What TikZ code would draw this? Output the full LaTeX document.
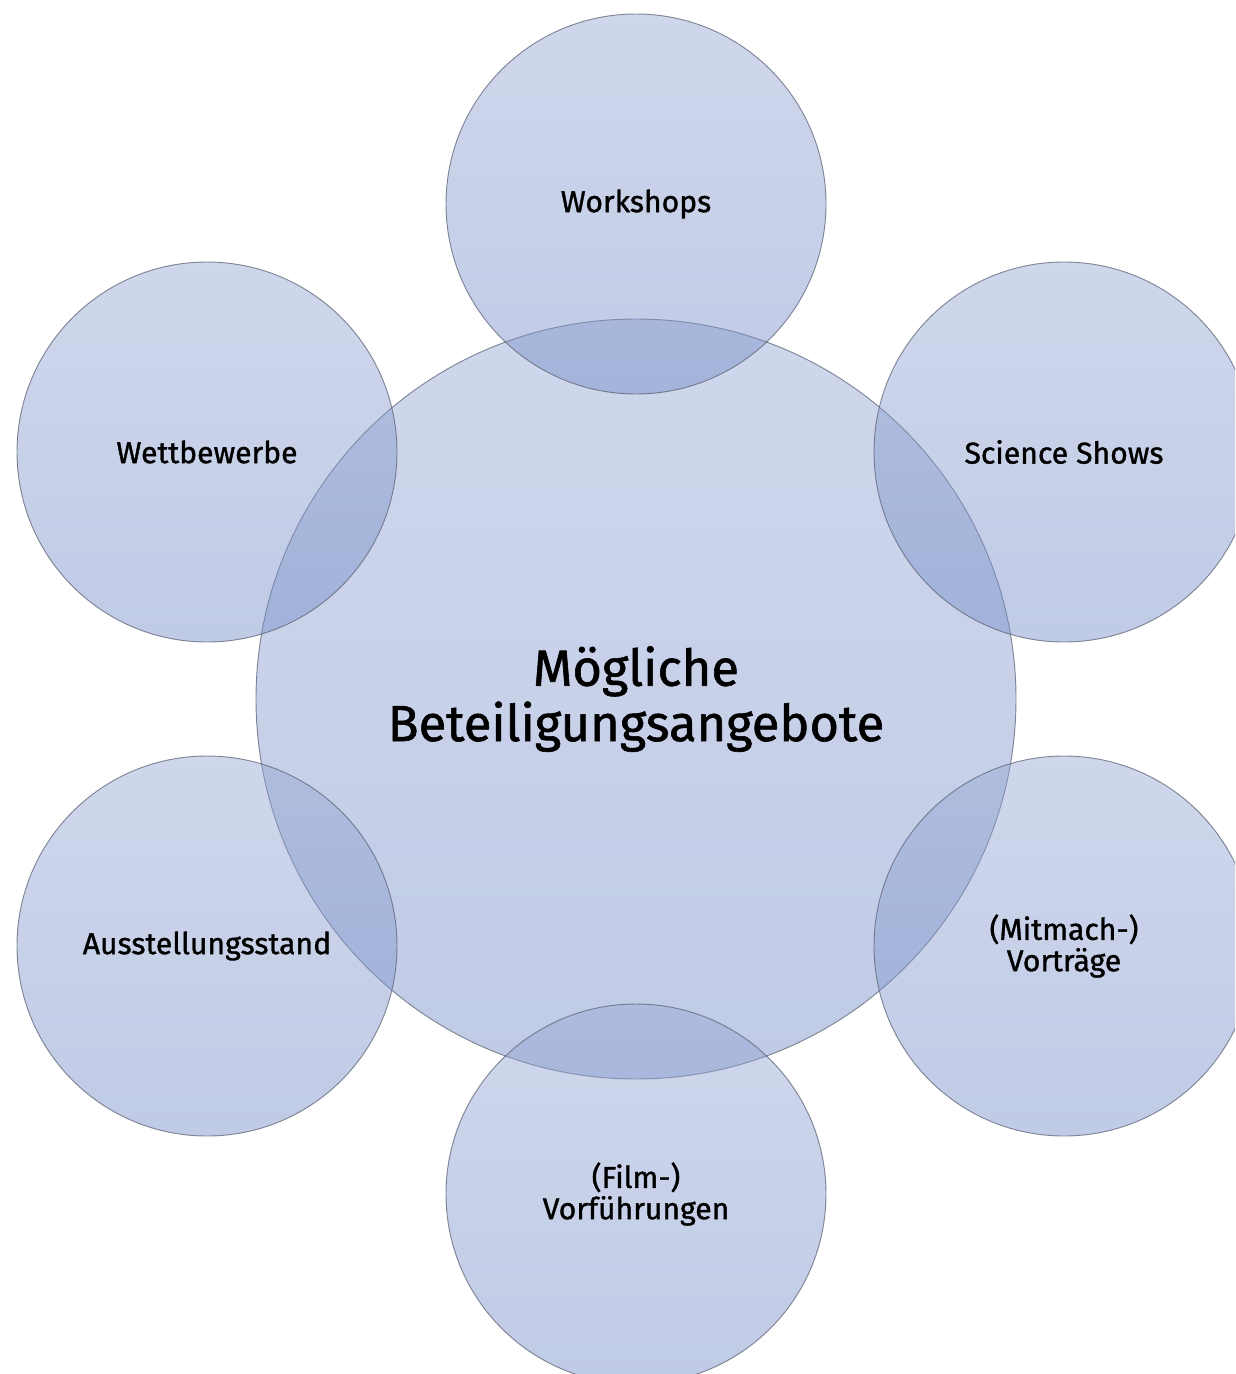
\documentclass[tikz,border=0pt]{standalone}
\usepackage{fontspec}
\setmainfont{Fira Sans}[UprightFeatures={FakeBold=1.2}]
\begin{document}
\begin{tikzpicture}[x=0.75pt,y=-0.75pt,
  bubble/.style={circle, inner sep=0pt, outer sep=0pt,
    top color={rgb,255:red,148;green,166;blue,211},
    bottom color={rgb,255:red,115;green,139;blue,199},
    fill opacity=0.45, draw={rgb,255:red,95;green,100;blue,118}, draw opacity=0.75,
    line width=0.7pt, text opacity=1, align=center, text=black},
  small/.style={bubble, minimum size=285pt, font=\fontsize{22.6}{23.5}\selectfont},
  big/.style={bubble, minimum size=570pt, font=\fontsize{38}{41.5}\selectfont}]
\useasboundingbox (0,0) rectangle (1235,1374);
\clip (0,0) rectangle (1235,1374);
\node[big] (c) at (636,699) {Mögliche\\Beteiligungsangebote};
\node[small] (w) at (636,204) {Workshops};
\node[small] (s) at (1064,452) {Science Shows};
\node[small] (m) at (1064,946) {(Mitmach-)\\Vorträge};
\node[small] (f) at (636,1194) {(Film-)\\Vorführungen};
\node[small] (a) at (207,946) {Ausstellungsstand};
\node[small] (b) at (207,452) {Wettbewerbe};
\end{tikzpicture}
\end{document}
